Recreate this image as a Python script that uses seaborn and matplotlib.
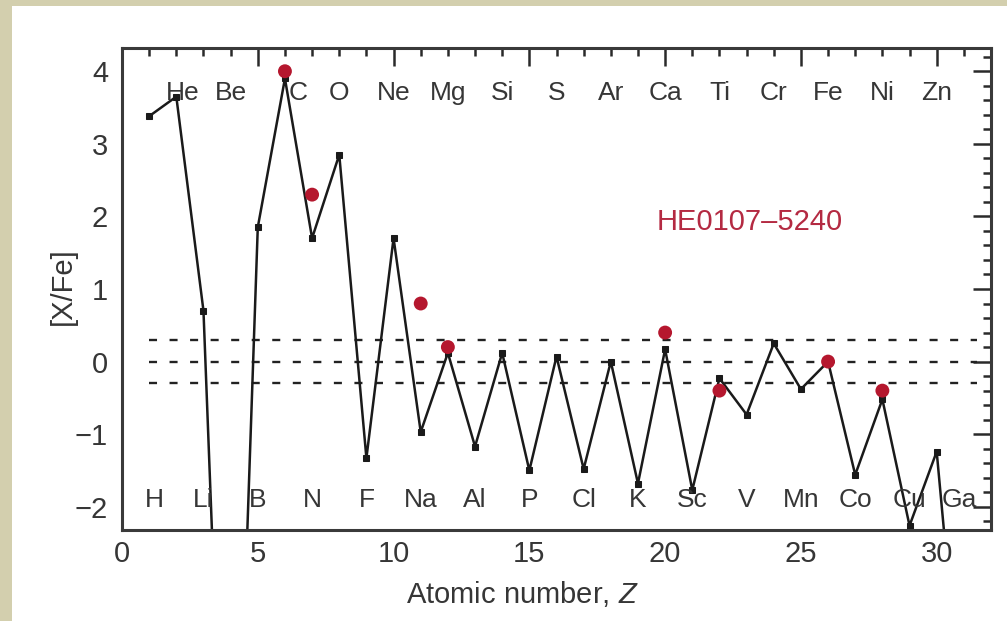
import matplotlib
matplotlib.use("Agg")
import matplotlib.pyplot as plt
from matplotlib.patches import Rectangle
from matplotlib.ticker import MultipleLocator
import seaborn as sns
import pandas as pd

# ---------------- data ----------------
z_all = list(range(1, 32))
xfe_all = [3.38, 3.65, 0.70, -9.0, 1.85, 3.90, 1.70, 2.85, -1.33, 1.70,
           -0.97, 0.12, -1.17, 0.12, -1.50, 0.07, -1.48, 0.00, -1.68, 0.17,
           -1.77, -0.23, -0.73, 0.25, -0.38, 0.00, -1.56, -0.52, -2.26, -1.24,
           -5.3]
z_obs = [6, 7, 11, 12, 20, 22, 26, 28]
xfe_obs = [4.0, 2.3, 0.8, 0.2, 0.4, -0.4, 0.0, -0.4]

top_symbols = ["He", "Be", "C", "O", "Ne", "Mg", "Si", "S", "Ar", "Ca",
               "Ti", "Cr", "Fe", "Ni", "Zn"]
top_z = [2, 4, 6, 8, 10, 12, 14, 16, 18, 20, 22, 24, 26, 28, 30]
bottom_symbols = ["H", "Li", "B", "N", "F", "Na", "Al", "P", "Cl", "K",
                  "Sc", "V", "Mn", "Co", "Cu", "Ga"]
bottom_z = [1, 3, 5, 7, 9, 11, 13, 15, 17, 19, 21, 23, 25, 27, 29, 31]
ref_levels = [0.3, 0.0, -0.3]
star_name = "HE0107\u20135240"

# ---------------- style ----------------
sns.set_theme(style="white")
plt.rcParams["font.family"] = ["Liberation Sans", "DejaVu Sans"]
plt.rcParams["mathtext.fontset"] = "custom"
plt.rcParams["mathtext.it"] = "Liberation Sans:italic"
plt.rcParams["mathtext.rm"] = "Liberation Sans"
TXT = "#363636"
RED = "#b5172e"

fig = plt.figure(figsize=(10.07, 6.21), dpi=100)
fig.patch.set_facecolor("#d3cfae")
fig.patches.append(Rectangle((12 / 1007, 0), 1 - 12 / 1007, 1 - 6 / 621,
                             transform=fig.transFigure, facecolor="white",
                             edgecolor="none", zorder=-10))
ax = fig.add_axes([122 / 1007, 1 - 530 / 621, (991 - 122) / 1007, (530 - 48) / 621])
ax.set_facecolor("white")

df = pd.DataFrame({"Z": z_all, "XFe": xfe_all})
dobs = pd.DataFrame({"Z": z_obs, "XFe": xfe_obs})

for lv in ref_levels:
    ax.hlines(lv, 1.0, 31.5, colors="#222222", linewidth=1.7,
              linestyles=(0, (3.4, 5.3)), zorder=1)

sns.lineplot(data=df, x="Z", y="XFe", ax=ax, color="#1a1a1a", linewidth=1.8,
             marker="s", markersize=4.8, markeredgecolor="#1a1a1a",
             markerfacecolor="#1a1a1a", sort=False, zorder=2)
sns.scatterplot(data=dobs, x="Z", y="XFe", ax=ax, color=RED, s=100,
                edgecolor="none", zorder=3)

for s, z in zip(top_symbols, top_z):
    dx = 0.5 if s == "C" else (0.25 if s == "He" else 0.0)
    ax.text(z + dx, 3.70, s, ha="center", va="center", fontsize=19, color=TXT, zorder=4)
for s, z in zip(bottom_symbols, bottom_z):
    dx = 0.2 if s == "H" else (-0.15 if s == "Ga" else 0.0)
    ax.text(z + dx, -1.91, s, ha="center", va="center", fontsize=19, color=TXT, zorder=4)

ax.text(23.1, 1.92, star_name, ha="center", va="center", fontsize=21, color="#b42a42")

ax.set_xlim(0, 32)
ax.set_ylim(-2.32, 4.32)
ax.xaxis.set_major_locator(MultipleLocator(5))
ax.xaxis.set_minor_locator(MultipleLocator(1))
ax.yaxis.set_major_locator(MultipleLocator(1))
ax.yaxis.set_minor_locator(MultipleLocator(0.2))
ax.tick_params(which="both", direction="in", top=True, right=True,
               color="#2a2a2a", width=1.8)
ax.tick_params(which="major", length=13)
ax.tick_params(which="minor", length=6)
ax.tick_params(axis="x", which="major", labelsize=21, labelcolor=TXT, pad=7)
ax.tick_params(axis="y", which="major", labelsize=21, labelcolor=TXT, pad=10)
ax.set_yticks([-2, -1, 0, 1, 2, 3, 4])
ax.set_yticklabels(["\u22122", "\u22121", "0", "1", "2", "3", "4"])

for sp in ax.spines.values():
    sp.set_color("#3a3a3a")
    sp.set_linewidth(2.2)
    sp.set_visible(True)

ax.set_xlabel("Atomic number, $Z$", fontsize=21, color=TXT, labelpad=8)
ax.xaxis.label.set_x(0.461)
ax.set_ylabel("[X/Fe]", fontsize=21, color=TXT)
ax.yaxis.set_label_coords(-0.052, 0.506)

fig.savefig("out.png", dpi=100, facecolor=fig.get_facecolor())
